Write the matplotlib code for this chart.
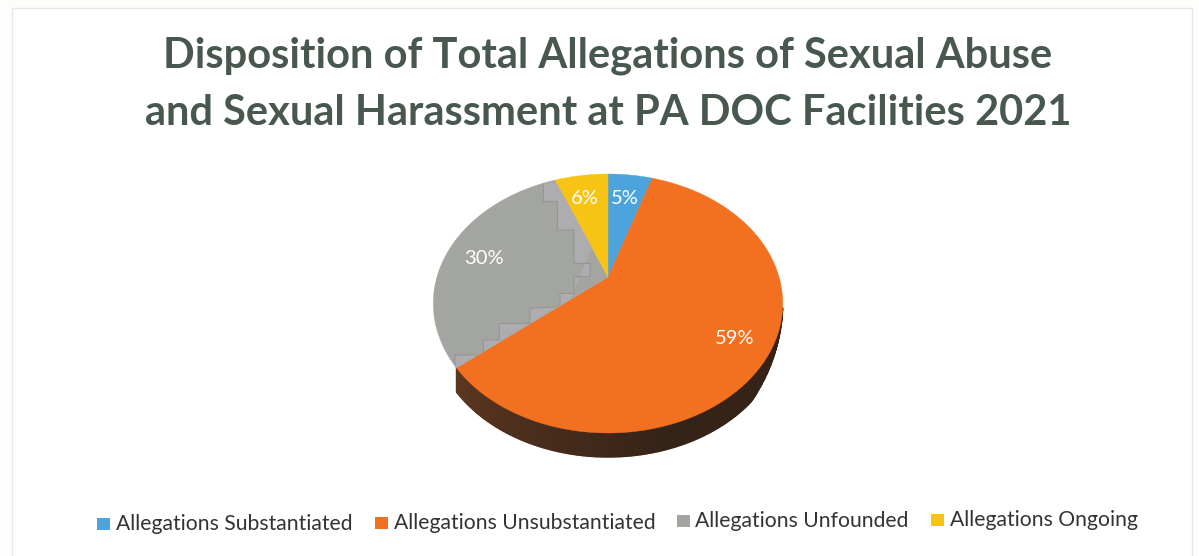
import numpy as np
import matplotlib
matplotlib.use("Agg")
import matplotlib.pyplot as plt
from matplotlib.patches import Rectangle

title_lines = ["Disposition of Total Allegations of Sexual Abuse",
               "and Sexual Harassment at PA DOC Facilities 2021"]
categories = ["Allegations Substantiated", "Allegations Unsubstantiated",
              "Allegations Unfounded", "Allegations Ongoing"]
values = [5, 59, 30, 6]
colors = ["#4da3dc", "#f2701f", "#a3a5a1", "#f7c415"]

W, H = 1199, 556
plt.rcParams['font.family'] = ['Lato', 'DejaVu Sans']
fig = plt.figure(figsize=(W / 100, H / 100), dpi=100, facecolor="#fdfdfb")
ax = fig.add_axes([0, 0, 1, 1])
ax.set_xlim(0, W)
ax.set_ylim(H, 0)
ax.axis("off")

# chart frame
ax.add_patch(Rectangle((12, 8), 1180, 560, fc="#ffffff", ec="#e8e8e6", lw=1, zorder=0))

# perspective projection of the unit disc, apex at the pie's centre
cx, cy, k, a, c = 608.0, 277.0, 171.0, 67.4, 0.2046
depth = 24.0


def project(x, y):
    w = 1 + c * y
    return cx + k * x / w, (cy - a * y) / w


def edge(start, end):
    th = np.radians(np.linspace(start, end, max(int(abs(end - start) * 2), 2)))
    return project(np.sin(th), np.cos(th))


# side wall, visible from the lower right round to the end of the orange slice
wall_end = (values[0] + values[1]) * 3.6
fr = np.linspace(104, wall_end, 260)
sx, sy = project(np.sin(np.radians(fr)), np.cos(np.radians(fr)))
dep = depth * np.clip((fr - 104) / 30, 0, 1)
dark_edge = np.array([0x5c, 0x36, 0x20]) / 255
dark_mid = np.array([0x36, 0x23, 0x17]) / 255
for i in range(len(fr) - 1):
    t = np.clip((fr[i] - 165) / 65, 0, 1)
    col = dark_mid * (1 - t) + dark_edge * t
    ax.fill([sx[i], sx[i + 1], sx[i + 1], sx[i]],
            [sy[i] - 1, sy[i + 1] - 1, sy[i + 1] + dep[i + 1], sy[i] + dep[i]],
            facecolor=col, edgecolor=col, lw=1.0, zorder=2)

# top faces
angle = 0.0
polys = {}
for name, v, col in zip(categories, values, colors):
    end = angle + v * 3.6
    ex, ey = edge(angle, end)
    polys[name] = ax.fill(np.r_[cx, ex], np.r_[cy, ey], color=col, lw=0.3, zorder=3)[0]
    angle = end

# scan artefact: lighter staircase patch in the grey slice
stair = np.array([(370, 70), (370, 125), (412, 125), (412, 210), (462, 210), (462, 310),
                  (510, 310), (510, 350), (462, 350), (462, 400), (420, 400), (420, 440),
                  (330, 445), (330, 490), (238, 490), (238, 540), (190, 540), (190, 585),
                  (105, 585), (105, 630)], dtype=float) / 3 + [420, 160]
grey = polys[categories[2]]
light = ax.fill(np.r_[stair[:, 0], 520, 620], np.r_[stair[:, 1], 420, 180],
                color="#adadaf", lw=0, zorder=3.5)[0]
light.set_clip_path(grey.get_path(), grey.get_transform())
line, = ax.plot(stair[:, 0], stair[:, 1], color="#8f918e", lw=0.6, zorder=4)
line.set_clip_path(grey.get_path(), grey.get_transform())

# percentage labels
label_pos = [(625, 198), (735, 338), (484, 258), (585, 199)]
for v, (lx, ly) in zip(values, label_pos):
    ax.text(lx, ly, f"{v}%", color="white", fontsize=14.5, ha="center", va="center", zorder=5)

# title
for text, y in zip(title_lines, (56, 113)):
    ax.text(608, y, text, color="#48584f", fontsize=30, fontweight="bold",
            ha="center", va="center", zorder=5)

# legend
leg_sw = [97, 375, 677, 931]
leg_tx = [116, 394, 695, 950]
leg_y = [524, 523, 521, 520]
for col, sw, tx, y, name in zip(colors, leg_sw, leg_tx, leg_y, categories):
    ax.add_patch(Rectangle((sw, y - 6), 13, 12, fc=col, ec="none", zorder=5))
    ax.text(tx, y, name, color="#333333", fontsize=15.2, ha="left", va="center", zorder=5)

fig.savefig("out.png", dpi=100, facecolor=fig.get_facecolor())
